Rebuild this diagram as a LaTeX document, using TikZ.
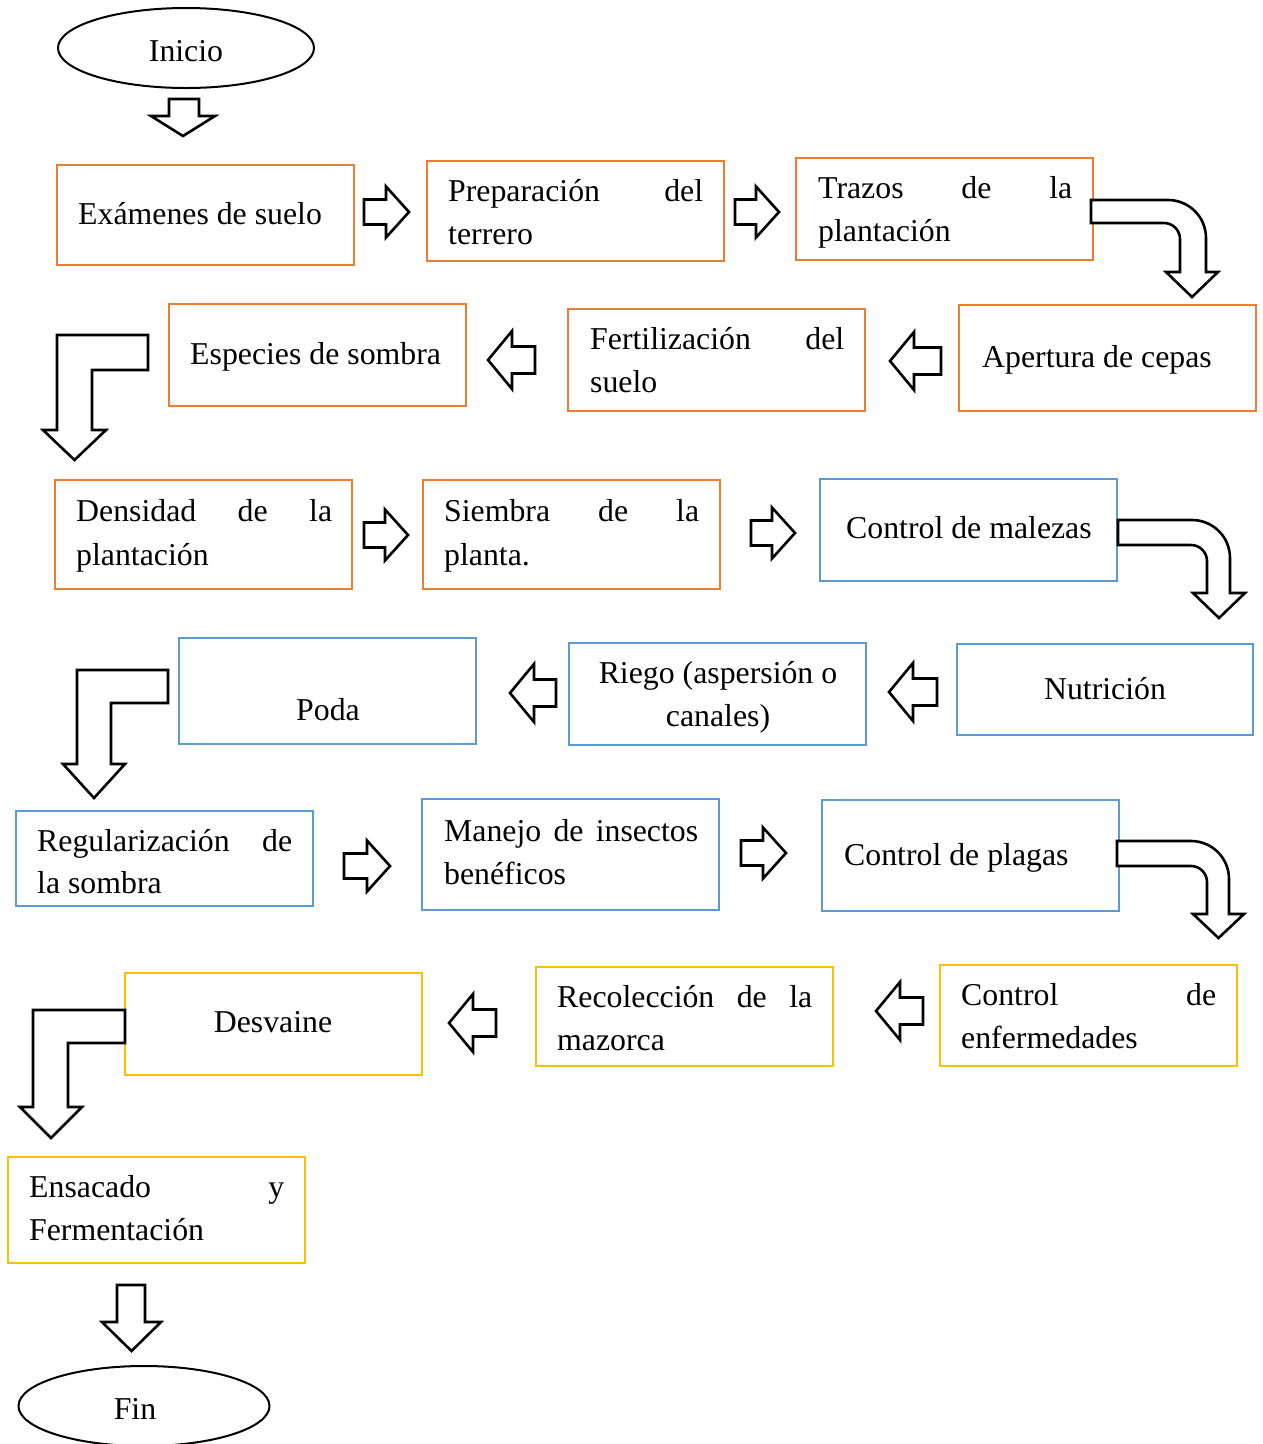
\documentclass[tikz,border=0pt]{standalone}
\usepackage{fontspec}
\setmainfont{Liberation Serif}
\usetikzlibrary{shapes.geometric}
\definecolor{orng}{HTML}{ED7D31}
\definecolor{blu}{HTML}{5B9BD5}
\definecolor{yel}{HTML}{FFC000}
\newcommand\fsz{\fontsize{31.8pt}{40pt}\selectfont}
\tikzset{
 box/.style={draw=#1, line width=2pt, inner sep=0pt},
 blk/.style={draw=black, line width=2.6pt, fill=white, line join=miter},
 txt/.style={anchor=base west, inner sep=0pt, font=\fsz},
 ctxt/.style={anchor=base, inner sep=0pt, font=\fsz},
 term/.style={ellipse, draw=black, line width=2pt, inner sep=0pt},
}
% box: name, x0, y0, x1, y1, colour
\newcommand\bx[6]{\node[box=#6, minimum width={#4-#2}, minimum height={#5-#3}] (#1) at ({(#2+#4)/2},{(#3+#5)/2}) {};}
% right arrow: left x, tip x, centre y
\newcommand\RA[3]{\draw[blk] (#1,#3-12.5) -- (#2-23,#3-12.5) -- (#2-23,#3-25.5) -- (#2,#3) -- (#2-23,#3+25.5) -- (#2-23,#3+12.5) -- (#1,#3+12.5) -- cycle;}
% left arrow: tip x, right x, centre y
\newcommand\LA[3]{\draw[blk] (#2,#3-13.5) -- (#1+24,#3-13.5) -- (#1+24,#3-29) -- (#1,#3) -- (#1+24,#3+29) -- (#1+24,#3+13.5) -- (#2,#3+13.5) -- cycle;}
% curved arrow: L, T, B, Xi, Xo, Hy, hl, hr, tipy
\newcommand\CA[9]{\draw[blk] (#1,#2) -- (#5-38,#2) .. controls (#5-38+21,#2) and (#5,#2+38-21) .. (#5,#2+38) -- (#5,#6) -- (#8,#6) -- ({(#7+#8)/2},#9) -- (#7,#6) -- (#4,#6) -- (#4,#3+16) .. controls (#4,#3+16-8.8) and (#4-16+8.8,#3) .. (#4-16,#3) -- (#1,#3) -- cycle;}
% bent arrow: R, T, B, Xo, Xi, Hy, hl, hr, tipy
\newcommand\BA[9]{\draw[blk] (#1,#2) -- (#4,#2) -- (#4,#6) -- (#7,#6) -- ({(#7+#8)/2},#9) -- (#8,#6) -- (#5,#6) -- (#5,#3) -- (#1,#3) -- cycle;}
% down arrow: shaft left, shaft right, top, Hy, hl, hr, tipy
\newcommand\DA[7]{\draw[blk] (#1,#3) -- (#2,#3) -- (#2,#4) -- (#6,#4) -- ({(#5+#6)/2},#7) -- (#5,#4) -- (#1,#4) -- cycle;}
\begin{document}
\begin{tikzpicture}[x=1pt,y=-1pt]
\useasboundingbox (0,0) rectangle (1263,1444);
\clip (0,0) rectangle (1263,1444);

% terminals
\node[term, minimum width=256, minimum height=80] (inicio) at (186,48) {};
\node[ctxt] (tinicio) at (186,61) {Inicio};
\node[term, minimum width=251, minimum height=80] (fin) at (144,1406) {};
\node[ctxt] (tfin) at (135,1419) {Fin};

% boxes
\bx{b1}{57}{165}{354}{265}{orng}
\bx{b2}{427}{161}{724}{261}{orng}
\bx{b3}{796}{158}{1093}{260}{orng}
\bx{b4}{959}{305}{1256}{411}{orng}
\bx{b5}{568}{309}{865}{411}{orng}
\bx{b6}{169}{304}{466}{406}{orng}
\bx{b7}{55}{480}{352}{589}{orng}
\bx{b8}{423}{480}{720}{589}{orng}
\bx{b9}{820}{479}{1117}{581}{blu}
\bx{b10}{957}{644}{1253}{735}{blu}
\bx{b11}{569}{643}{866}{745}{blu}
\bx{b12}{179}{638}{476}{744}{blu}
\bx{b13}{16}{811}{313}{906}{blu}
\bx{b14}{422}{799}{719}{910}{blu}
\bx{b15}{822}{800}{1119}{911}{blu}
\bx{b16}{940}{965}{1237}{1066}{yel}
\bx{b17}{536}{967}{833}{1066}{yel}
\bx{b18}{125}{973}{422}{1075}{yel}
\bx{b19}{8}{1157}{305}{1263}{yel}

% texts
\node[txt] (t1) at (78,224) {Exámenes de suelo};
\node[txt] (t2a) at (448,201) {\makebox[255pt][s]{Preparación del}};
\node[txt] (t2b) at (448,244) {terrero};
\node[txt] (t3a) at (818,198) {\makebox[254pt][s]{Trazos de la}};
\node[txt] (t3b) at (818,241) {plantación};
\node[txt] (t4) at (982,367) {Apertura de cepas};
\node[txt] (t5a) at (590,349) {\makebox[254pt][s]{Fertilización del}};
\node[txt] (t5b) at (590,392) {suelo};
\node[txt] (t6) at (190,364) {Especies de sombra};
\node[txt] (t7a) at (76,521) {\makebox[256pt][s]{Densidad de la}};
\node[txt] (t7b) at (76,565) {plantación};
\node[txt] (t8a) at (444,521) {\makebox[255pt][s]{Siembra de la}};
\node[txt] (t8b) at (444,565) {planta.};
\node[txt] (t9) at (846,538) {Control de malezas};
\node[ctxt] (t10) at (1105,699) {Nutrición};
\node[ctxt] (t11a) at (718,683) {Riego (aspersión o};
\node[ctxt] (t11b) at (718,726) {canales)};
\node[ctxt] (t12) at (328,720) {Poda};
\node[txt] (t13a) at (37,851) {\makebox[255pt][s]{Regularización de}};
\node[txt] (t13b) at (37,893) {la sombra};
\node[txt] (t14a) at (444,841) {\makebox[254pt][s]{Manejo de insectos}};
\node[txt] (t14b) at (444,884) {benéficos};
\node[txt] (t15) at (844,865) {Control de plagas};
\node[txt] (t16a) at (961,1005) {\makebox[255pt][s]{Control de}};
\node[txt] (t16b) at (961,1048) {enfermedades};
\node[txt] (t17a) at (557,1007) {\makebox[255pt][s]{Recolección de la}};
\node[txt] (t17b) at (557,1050) {mazorca};
\node[ctxt] (t18) at (273,1032) {Desvaine};
\node[txt] (t19a) at (29,1197) {\makebox[255pt][s]{Ensacado y}};
\node[txt] (t19b) at (29,1240) {Fermentación};

% arrows
\DA{169}{199}{99}{116}{151}{215}{136}
\RA{364}{409}{212}
\RA{735}{779}{212}
\CA{1091}{200}{223}{1180}{1206}{272}{1166}{1218}{297}
\LA{890}{941}{361}
\LA{488}{535}{360}
\BA{148}{335}{370}{57}{92}{430}{43}{106}{460}
\RA{364}{408}{535}
\RA{751}{795}{533}
\CA{1118}{520}{545}{1207}{1230}{593}{1193}{1245}{618}
\LA{889}{937}{692}
\LA{510}{556}{693}
\BA{168}{670}{703}{77}{111}{764}{63}{125}{798}
\RA{344}{390}{866}
\RA{741}{786}{853}
\CA{1117}{841}{866}{1207}{1229}{914}{1193}{1244}{938}
\LA{876}{923}{1011}
\LA{449}{496}{1023}
\BA{125}{1010}{1043}{33}{68}{1107}{20}{82}{1138}
\DA{117}{145}{1285}{1322}{102}{161}{1351}
\end{tikzpicture}
\end{document}
